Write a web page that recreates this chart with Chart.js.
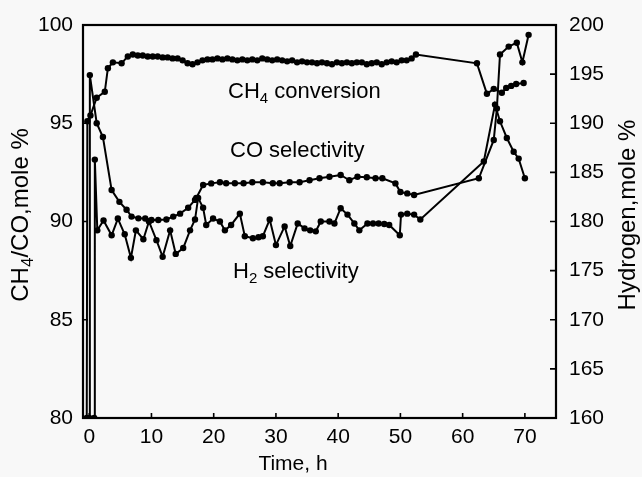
<!DOCTYPE html>
<html>
<head>
<meta charset="utf-8">
<script src="https://cdn.jsdelivr.net/npm/chart.js@4.4.1/dist/chart.umd.min.js"></script>
<style>
  html, body { margin: 0; padding: 0; background: #f8f8f8; }
  #wrap { width: 642px; height: 477px; }
</style>
</head>
<body>
<div id="wrap"><canvas id="chart" width="642" height="477"></canvas></div>
<script>
// CH4 conversion, left axis (mole %)
const ch4Time = [-0.4, -0.3, 0.2, 1.2, 2.5, 3.0, 3.8, 5.2, 6.2, 7.0, 7.8, 8.6, 9.4, 10.2, 11.0, 11.8, 12.6, 13.4, 14.2, 15.0,
  15.8, 16.6, 17.4, 18.2, 19.0, 19.8, 20.6, 21.4, 22.2, 23.0, 23.8, 24.6, 25.4, 26.2, 27.0, 27.8, 28.6, 29.4, 30.2, 31.0,
  31.8, 32.6, 33.4, 34.2, 35.0, 35.8, 36.6, 37.4, 38.2, 39.0, 39.8, 40.6, 41.4, 42.2, 43.0, 43.8, 44.6, 45.4, 46.2, 47.0,
  47.8, 48.6, 49.4, 50.2, 51.0, 51.8, 52.5, 62.3, 63.9, 65.0, 66.3, 67.0, 67.8, 68.6, 69.8];
const ch4Conv = [80, 95.1, 95.4, 96.3, 96.6, 97.8, 98.1, 98.05, 98.4, 98.5, 98.45, 98.45, 98.4, 98.4, 98.4, 98.35, 98.35, 98.3, 98.3, 98.2,
  98.05, 98.0, 98.1, 98.2, 98.25, 98.25, 98.3, 98.25, 98.3, 98.25, 98.2, 98.25, 98.2, 98.25, 98.2, 98.3, 98.25, 98.2, 98.25, 98.2,
  98.15, 98.2, 98.1, 98.15, 98.1, 98.1, 98.05, 98.1, 98.05, 98.0, 98.1, 98.05, 98.1, 98.05, 98.1, 98.1, 98.0, 98.05, 98.1, 98.0,
  98.1, 98.15, 98.1, 98.2, 98.2, 98.3, 98.5, 98.05, 96.5, 96.75, 96.55, 96.8, 96.9, 97.0, 97.05];

// CO selectivity, left axis
const coTime = [0.0, 0.1, 1.2, 2.2, 3.6, 4.85, 6.0, 6.8, 7.9, 9.0, 10.0, 11.1, 12.4, 13.5, 14.6, 15.9, 17.0, 17.2, 18.3, 19.6,
  21.0, 22.0, 23.4, 24.8, 26.2, 27.9, 29.5, 30.6, 32.2, 33.8, 35.4, 37.0, 38.6, 40.4, 41.8, 43.1, 44.6, 46.0, 47.1, 49.2,
  50.0, 51.1, 52.2, 62.6, 65.0, 65.5, 66.0, 67.4, 68.7, 69.6, 70.6];
const coSel = [80, 97.45, 95.0, 94.3, 91.6, 91.0, 90.6, 90.25, 90.16, 90.15, 90.08, 90.08, 90.1, 90.25, 90.4, 90.7, 91.1, 91.2, 91.86, 91.94,
  92.0, 91.95, 91.95, 91.95, 92.0, 92.0, 91.95, 91.95, 92.0, 92.0, 92.1, 92.2, 92.28, 92.37, 92.1, 92.28, 92.25, 92.2, 92.2, 91.94,
  91.5, 91.43, 91.35, 92.2, 94.15, 95.75, 98.5, 98.9, 99.1, 98.1, 99.5];

// H2 selectivity, right axis (Hydrogen, mole %)
const h2Time = [0.8, 0.9, 1.3, 2.3, 3.6, 4.6, 5.7, 6.7, 7.5, 8.7, 9.6, 10.8, 11.8, 13.0, 13.9, 15.1, 16.2, 17.0, 17.5, 18.3,
  18.8, 19.9, 21.0, 21.8, 22.8, 24.2, 25.0, 26.3, 27.2, 27.9, 29.0, 30.0, 31.4, 32.3, 33.5, 34.6, 35.5, 36.4, 37.2, 38.6,
  39.4, 40.4, 41.5, 42.6, 43.4, 44.7, 45.6, 46.5, 47.4, 48.2, 49.9, 50.1, 51.1, 52.2, 53.2, 63.4, 65.2, 66.0, 67.1, 68.2,
  69.0, 70.0];
const h2Sel = [160, 186.3, 179.1, 180.1, 178.6, 180.3, 178.7, 176.3, 179.1, 178.2, 180.0, 178.1, 176.4, 179.1, 176.7, 177.3, 179.1, 180.2, 182.4, 181.4,
  179.65, 180.3, 180.0, 179.1, 179.65, 180.8, 178.5, 178.3, 178.4, 178.5, 180.2, 177.6, 179.5, 177.5, 179.8, 179.3, 179.1, 179.0, 180.0, 180.0,
  179.8, 181.35, 180.7, 179.8, 179.1, 179.8, 179.8, 179.8, 179.75, 179.65, 178.6, 180.7, 180.8, 180.7, 180.2, 186.1, 191.9, 190.2, 188.5, 187.1,
  186.4, 184.4];

const xTicks = [0, 10, 20, 30, 40, 50, 60, 70];
const leftTicks = [80, 85, 90, 95, 100];
const rightTicks = [160, 165, 170, 175, 180, 185, 190, 195, 200];

const FONT = "'Liberation Sans', Arial, sans-serif";

function pts(xs, ys) {
  return xs.map((x, i) => ({ x: x, y: ys[i] }));
}

function series(label, xs, ys, axis) {
  return {
    label: label,
    data: pts(xs, ys),
    yAxisID: axis,
    showLine: true,
    borderColor: "#000",
    backgroundColor: "#000",
    borderWidth: 2,
    pointRadius: 3.2,
    pointBorderWidth: 0,
    pointBackgroundColor: "#000",
    tension: 0,
  };
}

// text with subscripts: parts = [[text, isSub], ...]
function partsWidth(ctx, parts, size) {
  let w = 0;
  parts.forEach(p => {
    ctx.font = (p[1] ? Math.round(size * 0.7) : size) + "px " + FONT;
    w += ctx.measureText(p[0]).width;
  });
  return w;
}
function drawParts(ctx, parts, x, y, size) {
  parts.forEach(p => {
    ctx.font = (p[1] ? Math.round(size * 0.7) : size) + "px " + FONT;
    ctx.fillText(p[0], x, p[1] ? y + size * 0.22 : y);
    x += ctx.measureText(p[0]).width;
  });
}

const frame = {
  id: "frame",
  afterDraw(chart) {
    const { ctx, chartArea: a, scales } = chart;
    ctx.save();
    ctx.strokeStyle = "#000";
    ctx.lineWidth = 2.2;
    ctx.strokeRect(a.left, a.top, a.right - a.left, a.bottom - a.top);

    // inward tick marks
    ctx.lineWidth = 1.6;
    ctx.beginPath();
    xTicks.forEach(v => {
      const px = scales.x.getPixelForValue(v);
      ctx.moveTo(px, a.bottom); ctx.lineTo(px, a.bottom - 5);
    });
    leftTicks.slice(1, -1).forEach(v => {
      const py = scales.y.getPixelForValue(v);
      ctx.moveTo(a.left, py); ctx.lineTo(a.left + 5, py);
    });
    rightTicks.slice(1, -1).forEach(v => {
      const py = scales.y1.getPixelForValue(v);
      ctx.moveTo(a.right, py); ctx.lineTo(a.right - 6, py);
    });
    ctx.stroke();

    ctx.fillStyle = "#000";
    ctx.textBaseline = "alphabetic";
    ctx.textAlign = "left";

    // series labels inside the plot
    drawParts(ctx, [["CH", false], ["4", true], [" conversion", false]], 228, 98, 22);
    drawParts(ctx, [["CO selectivity", false]], 230, 157, 22);
    drawParts(ctx, [["H", false], ["2", true], [" selectivity", false]], 233, 278, 22);

    // x title
    ctx.font = "21px " + FONT;
    ctx.textAlign = "center";
    ctx.fillText("Time, h", 293, 470);
    ctx.textAlign = "left";

    // left title
    const lt = [["CH", false], ["4", true], ["/CO,mole %", false]];
    ctx.save();
    ctx.translate(28, 215);
    ctx.rotate(-Math.PI / 2);
    drawParts(ctx, lt, -partsWidth(ctx, lt, 24) / 2, 0, 24);
    ctx.restore();

    // right title
    const rt = [["Hydrogen,mole %", false]];
    ctx.save();
    ctx.translate(635, 215);
    ctx.rotate(-Math.PI / 2);
    drawParts(ctx, rt, -partsWidth(ctx, rt, 24) / 2, 0, 24);
    ctx.restore();

    ctx.restore();
  },
};

Chart.defaults.font.family = FONT;
Chart.defaults.color = "#000";

new Chart(document.getElementById("chart"), {
  type: "scatter",
  data: {
    datasets: [
      series("CH4 conversion", ch4Time, ch4Conv, "y"),
      series("CO selectivity", coTime, coSel, "y"),
      series("H2 selectivity", h2Time, h2Sel, "y1"),
    ],
  },
  options: {
    responsive: false,
    animation: false,
    layout: { padding: { top: 25, left: 0, right: 0, bottom: 0 } },
    plugins: { legend: { display: false }, tooltip: { enabled: false } },
    scales: {
      x: {
        type: "linear",
        min: -1,
        max: 75,
        grid: { display: false },
        border: { display: false },
        ticks: { font: { size: 21 }, padding: -1, maxRotation: 0 },
        afterBuildTicks: s => { s.ticks = xTicks.map(v => ({ value: v })); },
        afterFit: s => { s.height = 59; },
      },
      y: {
        position: "left",
        min: 80,
        max: 100,
        grid: { display: false },
        border: { display: false },
        ticks: { font: { size: 21 }, padding: 2 },
        afterBuildTicks: s => { s.ticks = leftTicks.map(v => ({ value: v })); },
        afterFit: s => { s.width = 83; },
      },
      y1: {
        position: "right",
        min: 160,
        max: 200,
        grid: { display: false },
        border: { display: false },
        ticks: { font: { size: 21 }, padding: 5 },
        afterBuildTicks: s => { s.ticks = rightTicks.map(v => ({ value: v })); },
        afterFit: s => { s.width = 86; },
      },
    },
  },
  plugins: [frame],
});
</script>
</body>
</html>
